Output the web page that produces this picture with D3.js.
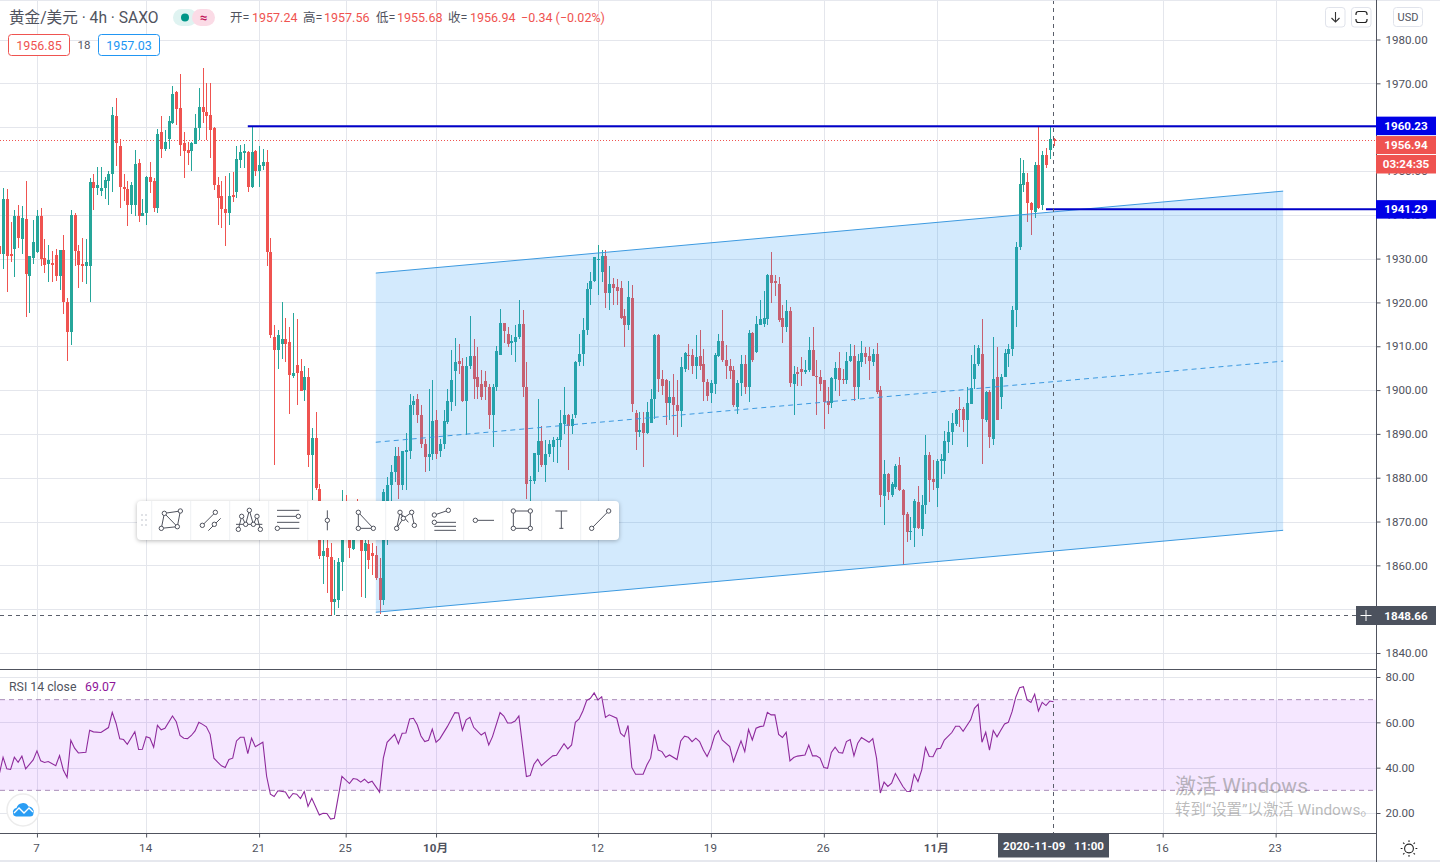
<!DOCTYPE html>
<html>
<head>
<meta charset="utf-8">
<script src="https://cdnjs.cloudflare.com/ajax/libs/d3/7.8.5/d3.min.js"></script>
<style>
html,body{margin:0;padding:0;background:#fff;overflow:hidden}
svg{display:block}
text{font-family:Roboto,"Noto Sans CJK SC",sans-serif}
</style>
</head>
<body>
<svg id="chart" width="1440" height="862"></svg>
<script>
// open, high, low, close per 4h bar
var candles = [
[1932.9,1934.8,1926.8,1931.0],[1931.0,1946.1,1927.6,1943.6],[1943.6,1945.9,1922.3,1930.6],[1931.1,1938.3,1929.2,1930.6],
[1932.1,1941.2,1925.9,1939.8],[1939.8,1942.3,1932.5,1934.6],[1934.4,1942.0,1931.0,1939.3],[1939.1,1947.7,1916.6,1926.4],
[1926.0,1930.6,1917.6,1930.5],[1930.2,1938.7,1928.7,1933.9],[1931.4,1941.0,1931.2,1939.8],[1939.8,1941.6,1928.2,1930.0],
[1930.2,1934.4,1926.8,1928.5],[1928.7,1933.0,1924.7,1929.6],[1929.1,1931.7,1924.7,1928.5],[1930.8,1932.3,1924.9,1926.0],
[1926.0,1932.0,1922.9,1931.9],[1931.9,1935.5,1917.3,1920.2],[1920.0,1921.1,1906.7,1913.2],[1913.2,1941.0,1910.2,1940.0],
[1940.0,1940.4,1928.2,1931.7],[1931.7,1933.0,1923.2,1928.5],[1928.7,1934.8,1924.7,1928.3],[1928.2,1934.5,1924.2,1929.3],
[1928.3,1948.4,1920.2,1947.5],[1947.5,1949.2,1941.0,1946.0],[1946.0,1950.9,1944.6,1946.7],[1945.4,1950.9,1944.4,1946.0],
[1946.0,1948.6,1943.7,1947.9],[1947.7,1949.9,1942.3,1949.3],[1949.2,1964.7,1945.2,1962.8],[1962.6,1966.7,1951.1,1956.4],
[1955.8,1957.3,1941.6,1946.3],[1946.4,1949.4,1943.1,1945.8],[1945.9,1947.7,1937.4,1942.2],[1942.3,1947.4,1940.1,1946.9],
[1942.3,1954.8,1939.8,1951.7],[1951.8,1952.7,1938.3,1939.8],[1939.8,1943.5,1939.7,1940.3],[1940.3,1948.8,1937.6,1948.6],
[1948.6,1952.0,1945.0,1947.4],[1947.7,1948.4,1940.6,1941.6],[1941.6,1959.5,1940.3,1958.5],[1959.0,1962.6,1953.0,1955.1],
[1955.1,1959.4,1954.5,1956.6],[1957.3,1962.6,1955.0,1961.4],[1960.9,1969.4,1960.8,1967.6],[1968.0,1968.2,1960.5,1964.2],
[1964.3,1972.1,1953.5,1956.0],[1956.4,1958.9,1948.4,1954.5],[1954.7,1956.7,1951.4,1954.2],[1954.5,1956.7,1949.9,1956.4],
[1956.2,1963.0,1956.2,1959.8],[1959.8,1968.9,1957.0,1964.7],[1964.6,1973.5,1960.9,1963.4],[1963.4,1970.1,1957.0,1962.5],
[1962.8,1970.1,1952.9,1959.3],[1959.8,1960.0,1945.6,1946.8],[1946.8,1948.7,1937.7,1943.9],[1944.4,1947.6,1936.9,1941.3],
[1941.3,1948.9,1932.9,1940.3],[1940.3,1949.5,1937.7,1944.3],[1944.5,1949.8,1943.0,1944.1],[1945.3,1955.7,1943.8,1952.7],
[1952.4,1955.9,1950.6,1954.4],[1954.2,1956.2,1950.6,1954.5],[1954.4,1954.6,1945.1,1946.4],[1946.4,1960.2,1946.0,1954.4],
[1954.6,1954.8,1948.9,1950.1],[1950.1,1955.7,1946.4,1951.4],[1951.2,1954.9,1950.2,1952.1],[1952.1,1954.8,1928.2,1931.6],
[1931.6,1934.6,1911.9,1912.6],[1912.1,1914.9,1883.0,1909.2],[1909.2,1913.8,1904.8,1912.6],[1910.6,1920.0,1907.1,1911.6],
[1911.6,1916.4,1906.5,1910.6],[1910.9,1914.5,1894.6,1903.5],[1903.3,1917.6,1902.7,1903.9],[1905.8,1916.2,1896.7,1904.0],
[1904.3,1907.1,1899.9,1899.9],[1900.1,1905.4,1897.6,1903.0],[1903.0,1905.0,1882.4,1885.1],[1885.1,1891.3,1875.0,1889.1],
[1889.1,1894.9,1877.3,1877.7],[1877.5,1878.5,1861.5,1862.2],[1862.2,1870.0,1855.8,1863.2],[1864.0,1870.0,1853.7,1862.0],
[1862.0,1865.0,1848.7,1851.6],[1851.6,1861.3,1848.66,1852.4],[1852.2,1861.7,1850.3,1860.8],[1860.7,1877.3,1854.1,1871.0],
[1874.0,1876.0,1866.0,1868.0],[1868.0,1873.0,1861.7,1864.0],[1863.8,1872.0,1863.4,1868.0],[1868.5,1875.2,1865.8,1866.0],
[1866.0,1870.0,1852.8,1863.2],[1863.2,1866.0,1852.6,1865.0],[1864.8,1866.0,1859.2,1861.3],[1862.8,1865.0,1857.9,1862.1],
[1862.4,1864.5,1856.6,1857.2],[1857.2,1861.7,1848.9,1852.2],[1852.2,1877.5,1851.0,1876.7],[1874.8,1880.2,1864.6,1878.3],
[1878.3,1883.0,1874.7,1881.3],[1881.3,1887.1,1879.0,1884.9],[1884.9,1887.0,1875.2,1878.3],[1878.3,1886.1,1877.1,1886.1],
[1885.9,1890.2,1877.3,1886.4],[1886.2,1899.0,1884.3,1896.7],[1896.5,1898.6,1894.2,1897.4],[1897.9,1899.2,1892.5,1894.2],
[1894.4,1896.7,1886.8,1887.6],[1887.6,1888.9,1881.3,1884.7],[1884.7,1900.2,1881.5,1885.5],[1885.5,1902.2,1884.1,1892.9],
[1893.1,1895.4,1884.3,1885.3],[1886.2,1888.9,1884.7,1887.8],[1887.6,1895.4,1886.6,1892.9],[1892.7,1900.2,1892.2,1897.6],
[1897.3,1909.2,1895.2,1902.4],[1904.3,1911.9,1896.3,1906.4],[1906.6,1910.4,1903.7,1905.9],[1905.6,1907.4,1897.3,1897.6],
[1897.6,1907.5,1889.7,1905.4],[1905.4,1917.0,1904.9,1907.7],[1907.7,1911.7,1898.0,1902.6],[1903.0,1909.9,1898.0,1900.8],
[1901.4,1904.5,1897.8,1898.4],[1902.0,1904.3,1897.8,1900.7],[1900.8,1901.3,1891.2,1894.4],[1894.2,1901.4,1887.0,1900.7],
[1900.7,1910.0,1899.9,1909.0],[1908.1,1918.6,1908.1,1915.4],[1915.4,1915.4,1910.7,1913.5],[1912.7,1914.5,1909.8,1910.6],
[1910.7,1912.5,1908.1,1911.1],[1911.0,1914.8,1906.4,1912.2],[1912.1,1920.6,1911.7,1915.0],[1915.1,1918.2,1898.4,1900.7],
[1900.8,1906.4,1875.2,1878.5],[1879.2,1880.5,1874.8,1879.5],[1879.2,1885.6,1878.6,1885.6],[1885.1,1898.0,1881.3,1888.3],
[1888.3,1891.7,1882.4,1883.0],[1883.0,1888.7,1879.0,1885.5],[1885.3,1888.5,1884.7,1887.6],[1887.1,1889.3,1883.6,1888.5],
[1888.5,1889.3,1883.3,1888.8],[1888.5,1895.4,1887.0,1892.5],[1892.3,1900.7,1890.0,1894.4],[1894.4,1894.6,1881.7,1891.7],
[1891.9,1894.6,1890.0,1893.5],[1894.2,1906.6,1893.7,1906.5],[1906.4,1912.9,1905.4,1908.3],[1908.3,1916.5,1905.4,1913.8],
[1913.8,1924.4,1912.5,1923.1],[1923.1,1926.9,1919.3,1924.9],[1924.9,1930.3,1924.6,1930.3],[1929.6,1933.2,1921.6,1930.0],
[1926.9,1931.9,1924.6,1930.5],[1930.7,1932.0,1918.8,1922.1],[1922.1,1928.4,1918.3,1924.1],[1924.1,1925.6,1919.3,1923.3],
[1923.5,1925.4,1919.3,1922.7],[1923.3,1925.0,1916.3,1916.5],[1917.0,1918.5,1909.8,1914.8],[1914.8,1924.9,1913.6,1921.2],
[1921.1,1924.0,1895.0,1896.9],[1894.8,1895.4,1886.4,1890.4],[1890.4,1895.0,1889.3,1891.0],[1892.5,1895.0,1882.4,1890.2],
[1890.2,1897.3,1889.9,1895.0],[1892.5,1900.3,1892.5,1898.0],[1898.0,1912.9,1893.5,1912.5],[1912.5,1912.7,1899.5,1902.6],
[1902.6,1904.5,1898.8,1901.0],[1902.4,1902.6,1892.1,1897.0],[1897.0,1902.0,1893.1,1898.4],[1898.4,1903.6,1889.7,1896.5],
[1896.7,1902.2,1889.4,1895.2],[1895.2,1907.5,1891.6,1905.2],[1904.9,1908.7,1904.1,1908.4],[1908.1,1910.6,1904.5,1907.7],
[1908.1,1909.4,1903.7,1905.6],[1905.4,1912.5,1902.6,1907.5],[1907.7,1913.8,1904.5,1905.6],[1905.9,1909.4,1897.6,1901.8],
[1901.8,1902.6,1897.6,1898.6],[1899.3,1902.2,1897.0,1901.6],[1901.4,1908.4,1899.2,1908.1],[1907.7,1912.7,1907.5,1911.2],
[1911.3,1918.3,1906.4,1906.9],[1906.9,1910.2,1902.6,1905.4],[1905.6,1907.1,1902.6,1904.3],[1904.5,1905.6,1896.1,1896.5],
[1896.1,1902.2,1894.6,1901.6],[1901.6,1907.9,1898.6,1906.0],[1906.0,1908.1,1899.2,1900.7],[1900.8,1913.6,1897.3,1913.0],
[1913.0,1913.2,1906.4,1906.8],[1908.7,1917.0,1908.4,1915.1],[1914.8,1920.5,1914.8,1916.3],[1915.1,1922.7,1914.5,1916.5],
[1916.3,1926.5,1914.8,1926.3],[1926.2,1931.5,1919.8,1924.4],[1924.9,1926.2,1921.4,1924.4],[1924.3,1925.8,1915.5,1916.0],
[1916.5,1919.3,1910.7,1914.4],[1914.4,1920.5,1913.2,1918.0],[1918.0,1918.9,1900.7,1901.6],[1901.4,1905.6,1894.4,1903.6],
[1904.1,1905.2,1901.0,1903.6],[1904.9,1907.5,1901.0,1904.1],[1904.1,1906.8,1903.7,1904.6],[1904.6,1912.2,1904.1,1909.2],
[1909.2,1914.4,1903.1,1903.1],[1903.3,1906.9,1894.2,1903.0],[1903.0,1904.6,1899.9,1901.4],[1902.2,1902.4,1891.2,1897.3],
[1897.6,1900.7,1894.6,1896.7],[1897.0,1903.0,1896.0,1902.7],[1902.6,1906.4,1899.9,1905.1],[1905.1,1908.7,1898.6,1902.4],
[1902.6,1904.9,1901.3,1902.2],[1902.2,1908.7,1901.3,1906.6],[1906.6,1910.4,1906.4,1907.7],[1907.7,1910.2,1897.6,1900.8],
[1900.8,1908.3,1898.0,1906.6],[1906.4,1911.3,1905.2,1908.5],[1908.5,1909.8,1906.0,1907.5],[1907.7,1909.8,1902.2,1906.6],
[1906.4,1909.3,1905.4,1908.3],[1908.3,1910.7,1899.2,1899.5],[1900.1,1901.0,1873.3,1876.0],[1875.8,1884.1,1869.1,1880.9],
[1880.9,1881.0,1875.0,1876.7],[1876.0,1879.0,1875.6,1878.6],[1877.9,1883.2,1877.5,1882.6],[1882.8,1884.7,1877.0,1877.1],
[1877.1,1877.5,1860.0,1871.4],[1871.8,1872.2,1865.3,1867.6],[1867.6,1871.0,1865.7,1867.8],[1868.5,1875.2,1864.3,1874.7],
[1874.4,1878.0,1868.4,1868.6],[1868.2,1876.0,1866.6,1873.7],[1873.7,1889.7,1871.8,1885.1],[1885.1,1885.9,1874.4,1879.4],
[1879.6,1884.0,1877.1,1879.0],[1877.7,1884.3,1873.3,1883.8],[1883.8,1885.3,1879.8,1884.3],[1883.8,1890.6,1880.8,1888.4],
[1888.2,1892.9,1885.6,1890.4],[1890.4,1894.8,1887.4,1892.5],[1892.2,1895.7,1891.9,1895.5],[1895.7,1898.4,1891.6,1895.4],
[1895.7,1896.1,1890.4,1893.2],[1893.2,1900.7,1887.0,1897.0],[1896.9,1908.1,1896.9,1900.5],[1902.6,1910.2,1900.3,1906.0],
[1906.0,1910.2,1905.6,1909.7],[1908.3,1916.3,1883.2,1893.3],[1893.1,1899.9,1892.7,1899.5],[1899.6,1900.0,1886.8,1889.3],
[1888.9,1912.1,1887.4,1902.6],[1903.0,1909.8,1893.1,1893.1],[1898.4,1903.7,1895.7,1903.0],[1903.0,1909.4,1902.9,1908.4],
[1908.3,1910.6,1905.2,1909.4],[1909.3,1919.1,1907.7,1918.2],[1918.2,1933.8,1914.4,1932.6],[1932.7,1952.9,1932.0,1947.0],
[1946.8,1952.5,1945.3,1949.6],[1947.4,1949.5,1938.4,1942.6],[1942.6,1943.0,1935.4,1941.0],[1940.7,1952.1,1939.2,1951.4],
[1951.4,1960.23,1941.3,1941.5],[1942.2,1954.6,1941.1,1953.6],[1953.6,1955.2,1950.6,1951.4],[1954.8,1960.2,1952.7,1957.2],
[1957.24,1957.56,1955.68,1956.94]
];

// RSI line: bars where the line visibly turns, and its value there
var rsiBars = [0,1,2,3,4,5,6,7,9,10,11,12,13,15,16,17,18,19,20,21,23,24,25,27,29,30,31,32,33,34,36,37,38,39,40,41,42,43,44,46,47,48,49,50,51,52,53,54,55,56,57,58,59,60,61,62,63,64,65,66,67,68,70,71,72,73,74,76,77,78,79,80,81,82,83,85,86,87,88,89,91,93,94,95,96,97,98,99,101,102,103,105,106,107,108,109,110,111,112,113,114,115,116,117,119,121,122,123,124,125,126,128,129,130,131,133,134,135,136,137,138,140,141,142,143,144,146,147,148,150,151,152,153,154,155,156,157,158,159,160,161,162,164,165,166,167,168,169,171,172,173,174,175,176,177,178,180,181,182,183,184,185,186,187,188,189,190,191,192,194,195,197,198,199,200,201,202,203,204,205,206,207,208,209,210,211,212,214,215,216,217,218,219,220,221,222,223,224,225,226,227,228,229,231,232,233,234,235,236,237,238,240,241,242,243,244,245,246,247,248,249,250,251,253,254,255,256,258,259,260,261,262,263,264,265,266,267,268,269,270,271,272,273,274,275,276,277,278,279,280];
var rsiValues = [37.1,44.6,39.5,39.2,44.6,42.4,45.1,39.5,43.4,47.4,43,42.3,42.7,40.9,45.3,39,35.7,52.1,48.6,46.5,46.8,56.5,55.8,55.5,57.7,64.4,59.6,52.7,52.4,50.3,55.9,48,48.1,53.7,53.1,49,58.7,56.7,57.4,62.8,60.3,54.2,53,52.8,54.2,56.2,60,59.1,58,54.7,44.2,42.4,40.8,40.1,43.6,44.2,51.8,53.4,53.4,46.2,53,49.2,51.2,36.2,28.3,27.3,29.8,29.3,26.5,28.6,28.3,26.4,29.5,22.9,26.5,19.1,19.9,19.8,17.3,17.7,36.2,33,35.2,34.9,33.6,34.9,33.3,34,29.2,44.2,51.2,54.7,50.6,55.2,55.3,61.5,61.8,58.9,54,51.5,52.1,57,51.2,52.7,58.1,64.3,64.1,56.5,61.1,62.2,57.8,54.4,55.6,50,53.7,64.3,62.8,59.7,59.7,60.6,62.8,36.1,36.5,41.5,43.7,40.9,43.9,45.2,45.5,50.6,48.3,50,60,61.5,65,69.6,70.6,73,69.9,71.3,62.2,63.3,61.8,55.2,53.7,58.6,40.1,37.1,37.1,41.2,44.2,54.7,47.8,47.1,44.6,45.6,43.6,51.8,53.9,53.4,51.5,53,51.5,47.8,44.9,48.6,54.2,56.4,52.2,49.3,42.7,51.8,47.1,56.9,52.2,57.4,58.1,58.4,64.4,63.3,63.3,54.7,53.3,55.6,43,44.5,45.1,45.6,50,45.2,45.2,44.2,40.1,39.7,46.7,49,46.7,46.4,51.5,52.4,45.2,50.8,53.3,51.2,52.8,44.2,28.8,33.6,31.7,33.2,37.4,31.7,29.6,29.5,37.1,33.9,39,48.9,44.9,44.8,48.3,48.6,52.2,55.5,58.3,58.3,56,61.1,66.2,68,51.2,55.6,47.7,56.4,53.6,56.5,59.3,60,64.7,71.2,75.3,75.7,69.9,68.8,72.4,65,68.8,67.4,69.4,69.1];

var priceTicks = [1840,1850,1860,1870,1880,1890,1900,1910,1920,1930,1940,1950,1960,1970,1980];
var rsiTicks = [20,40,60,80];
var timeTickBars = [10,39,69,92,116,159,189,219,249,309,339];
var timeTickLabels = ["7","14","21","25","10月","12","19","26","11月","16","23"];
var boldTimeLabels = ["10月","11月"];

var lastPrice = 1956.94;
var hLevels = [1960.23,1941.29];
var hLevelStartBars = [66,278];
var crossPrice = 1848.66;
var crossBar = 280;

// parallel channel: bars at both ends, then price at both ends of each line
var channelBars = [100,341];
var channelUpper = [1926.7,1945.4];
var channelMiddle = [1888.1,1906.6];
var channelLower = [1849.3,1868.0];

var rsiBand = [30,70];

var GREEN = "#26a69a", RED = "#ef5350", GRID = "#e4e6ec", TEXT = "#50535e", DARK = "#4c525e", LEVEL = "#0000c8", TAG = "#0000e6";

var svg = d3.select("#chart");

var x = d3.scaleLinear().domain([0,280]).range([-0.7,1053.5]);
var y = d3.scaleLinear().domain([1840,1980]).range([653,39.5]);
var yRsi = d3.scaleLinear().domain([20,80]).range([813,677]);

var paneRight = 1376.5, mainBottom = 669.5, rsiBottom = 833.5;

// grid
var grid = svg.append("g").attr("shape-rendering","crispEdges").attr("stroke",GRID);
grid.selectAll(".v").data(timeTickBars).enter().append("line")
    .attr("x1",function(d){return Math.round(x(d))+0.5;})
    .attr("x2",function(d){return Math.round(x(d))+0.5;})
    .attr("y1",0).attr("y2",rsiBottom);
grid.selectAll(".h").data(priceTicks).enter().append("line")
    .attr("x1",0).attr("x2",paneRight)
    .attr("y1",function(d){return Math.round(y(d))+0.5;})
    .attr("y2",function(d){return Math.round(y(d))+0.5;});
grid.selectAll(".r").data(rsiTicks).enter().append("line")
    .attr("x1",0).attr("x2",paneRight)
    .attr("y1",function(d){return Math.round(yRsi(d))+0.5;})
    .attr("y2",function(d){return Math.round(yRsi(d))+0.5;});

// last price line under the candles
svg.append("line").attr("x1",0).attr("x2",paneRight)
    .attr("y1",Math.floor(y(lastPrice))+0.5).attr("y2",Math.floor(y(lastPrice))+0.5)
    .attr("stroke",RED).attr("stroke-dasharray","1 2").attr("shape-rendering","crispEdges");

// candles
var candle = svg.append("g").attr("shape-rendering","crispEdges")
    .selectAll("g").data(candles).enter().append("g")
    .attr("fill",function(d){return d[3]>=d[0]?GREEN:RED;});
candle.append("rect")
    .attr("x",function(d,i){return Math.round(x(i));})
    .attr("width",1)
    .attr("y",function(d){return y(d[1]);})
    .attr("height",function(d){return y(d[2])-y(d[1]);});
candle.append("rect")
    .attr("x",function(d,i){return Math.round(x(i))-1;})
    .attr("width",3)
    .attr("y",function(d){return y(Math.max(d[0],d[3]));})
    .attr("height",function(d){return Math.max(1,Math.abs(y(d[0])-y(d[3])));});

// channel, painted over the candles
var area = d3.area().x(function(d){return x(d.b);}).y0(function(d){return y(d.lo);}).y1(function(d){return y(d.up);});
var channelRows = channelBars.map(function(b,i){return {b:b,up:channelUpper[i],mid:channelMiddle[i],lo:channelLower[i]};});
svg.append("path").datum(channelRows).attr("d",area).attr("fill","rgba(33,150,243,0.2)");
[["up",null],["mid","5 4"],["lo",null]].forEach(function(k){
    svg.append("path").datum(channelRows)
        .attr("d",d3.line().x(function(d){return x(d.b);}).y(function(d){return y(d[k[0]]);}))
        .attr("fill","none").attr("stroke","#3d9ae0").attr("stroke-width",1)
        .attr("stroke-dasharray",k[1]);
});

// horizontal levels
hLevels.forEach(function(p,i){
    svg.append("line").attr("x1",x(hLevelStartBars[i])).attr("x2",paneRight)
        .attr("y1",y(p)).attr("y2",y(p))
        .attr("stroke",LEVEL).attr("stroke-width",2);
});

// rsi pane
svg.append("rect").attr("x",0).attr("width",paneRight)
    .attr("y",yRsi(rsiBand[1])).attr("height",yRsi(rsiBand[0])-yRsi(rsiBand[1]))
    .attr("fill","rgba(153,21,255,0.1)");
rsiBand.forEach(function(v){
    svg.append("line").attr("x1",0).attr("x2",paneRight)
        .attr("y1",yRsi(v)).attr("y2",yRsi(v))
        .attr("stroke","#a98db8").attr("stroke-dasharray","5 4");
});
var rsiLine = d3.line().x(function(d){return x(d);}).y(function(d,i){return yRsi(rsiValues[i]);});
svg.append("path").datum(rsiBars).attr("d",rsiLine)
    .attr("fill","none").attr("stroke","#8e2a9c").attr("stroke-width",1.1);

// crosshair
svg.append("line").attr("x1",0).attr("x2",paneRight)
    .attr("y1",Math.floor(y(crossPrice))+0.5).attr("y2",Math.floor(y(crossPrice))+0.5)
    .attr("stroke","#5a5f6a").attr("stroke-dasharray","4 4");
svg.append("line").attr("x1",Math.floor(x(crossBar))+0.5).attr("x2",Math.floor(x(crossBar))+0.5)
    .attr("y1",0).attr("y2",rsiBottom)
    .attr("stroke","#5a5f6a").attr("stroke-dasharray","4 4");

// pane borders
svg.append("rect").attr("x",0).attr("y",0).attr("width",1440).attr("height",1).attr("fill","#e6e8ee");
svg.append("rect").attr("x",0).attr("y",860).attr("width",1440).attr("height",2).attr("fill","#e6e8ee");
[[0,mainBottom,paneRight,mainBottom],[0,rsiBottom,paneRight,rsiBottom],[paneRight,0,paneRight,862]].forEach(function(l){
    svg.append("line").attr("x1",l[0]).attr("y1",l[1]).attr("x2",l[2]).attr("y2",l[3])
        .attr("stroke","#50535e").attr("stroke-width",1).attr("shape-rendering","crispEdges");
});

// axes
function styleAxis(g){
    g.select(".domain").remove();
    g.selectAll("line").attr("stroke","#50535e");
    g.selectAll("text").attr("fill",TEXT).style("font-size","11.6px");
}
// the crosshair tag covers the 1850 label, as on the original chart
svg.append("g").attr("transform","translate("+paneRight+",0)")
    .call(d3.axisRight(y).tickValues(priceTicks).tickSize(4).tickPadding(5)
        .tickFormat(function(d){return d===1850?"":d3.format(".2f")(d);}))
    .call(styleAxis);
svg.append("g").attr("transform","translate("+paneRight+",0)")
    .call(d3.axisRight(yRsi).tickValues(rsiTicks).tickSize(4).tickPadding(5).tickFormat(d3.format(".2f")))
    .call(styleAxis);
svg.append("g").attr("transform","translate(0,"+rsiBottom+")")
    .call(d3.axisBottom(x).tickValues(timeTickBars).tickSize(4).tickPadding(6)
        .tickFormat(function(d,i){return timeTickLabels[i];}))
    .call(styleAxis)
    .call(function(g){
        g.selectAll("text").attr("dx",-1).style("font-weight",function(d,i){
            return boldTimeLabels.indexOf(timeTickLabels[i])>=0?"700":"400";
        });
    });

function tag(px,py,w,h,fill,label){
    svg.append("rect").attr("x",px).attr("y",py).attr("width",w).attr("height",h).attr("fill",fill);
    svg.append("text").attr("x",px+w/2).attr("y",py+h/2+4).attr("text-anchor","middle")
        .attr("fill","#fff").style("font-size","11.6px").style("font-weight","700").text(label);
}
var fmt = d3.format(".2f");
tag(1376,y(hLevels[0])-9.5,60,18.5,TAG,fmt(hLevels[0]));
tag(1376,y(lastPrice)-4.5,60,18,RED,fmt(lastPrice));
tag(1376,155,60,18.5,RED,"03:24:35");
tag(1376,y(hLevels[1])-9,60,18.5,TAG,fmt(hLevels[1]));
tag(1376,606,60,19,DARK,fmt(crossPrice));
svg.append("rect").attr("x",1356).attr("y",606).attr("width",20).attr("height",19).attr("fill",DARK);
svg.append("path").attr("d","M1366 610v11M1360.5 615.5h11").attr("stroke","#fff").attr("stroke-width",1);

tag(998,833.5,111,24,DARK,"2020-11-09   11:00");
svg.selectAll("text").filter(function(){return this.textContent.indexOf("2020-11-09")===0;})
    .attr("xml:space","preserve").style("white-space","pre");

// header
function label(px,py,str,fill,size,anchor){
    return svg.append("text").attr("x",px).attr("y",py).attr("fill",fill)
        .attr("text-anchor",anchor||"start").style("font-size",(size||12.5)+"px").text(str);
}
label(9,23,"黄金/美元 · 4h · SAXO",TEXT,15.6);
svg.append("rect").attr("x",173).attr("y",9).attr("width",24).attr("height",17).attr("rx",8.5).attr("fill","#dff3f1");
svg.append("rect").attr("x",192).attr("y",9).attr("width",23).attr("height",17).attr("rx",8.5).attr("fill","#fbdbe6");
svg.append("circle").attr("cx",185).attr("cy",17.5).attr("r",4).attr("fill","#009688");
label(203.5,22,"≈","#c2185b",13,"middle").style("font-weight","700");

[[230,"开="],[303,"高="],[376,"低="],[448,"收="]].forEach(function(d){label(d[0],22,d[1],TEXT);});
[[252,"1957.24"],[324,"1957.56"],[397,"1955.68"],[470,"1956.94"],[521,"−0.34 (−0.02%)"]].forEach(function(d){label(d[0],22,d[1],RED);});

svg.append("rect").attr("x",8.5).attr("y",34.5).attr("width",61).attr("height",21).attr("rx",3).attr("fill","#fff").attr("stroke",RED);
label(39,50,"1956.85",RED,12.5,"middle");
label(84,49,"18",TEXT,11.5,"middle");
svg.append("rect").attr("x",98.5).attr("y",34.5).attr("width",61).attr("height",21).attr("rx",3).attr("fill","#fff").attr("stroke","#2196f3");
label(129,50,"1957.03","#2196f3",12.5,"middle");

// top right buttons
[[1325.5,19.5],[1351.5,19.5]].forEach(function(b){
    svg.append("rect").attr("x",b[0]).attr("y",7.5).attr("width",b[1]).attr("height",19.5).attr("rx",3)
        .attr("fill","#fff").attr("stroke","#e0e3eb");
});
svg.append("path").attr("d","M1335.5 12v10M1331.5 18l4 4 4-4").attr("fill","none").attr("stroke","#333").attr("stroke-width",1.1);
svg.append("path").attr("d","M1356 15v-1a2.5 2.5 0 0 1 2.5-2.5h6a2.5 2.5 0 0 1 2.5 2.5v1M1356 19v1a2.5 2.5 0 0 0 2.5 2.5h6a2.5 2.5 0 0 0 2.5-2.5v-1")
    .attr("fill","none").attr("stroke","#222").attr("stroke-width",1.2);
svg.append("rect").attr("x",1393.5).attr("y",7.5).attr("width",29).attr("height",19).attr("rx",3).attr("fill","#fff").attr("stroke","#e0e3eb");
label(1408,21,"USD",TEXT,11,"middle");

// rsi legend and logo
label(9,690.5,"RSI 14 close",TEXT,12.3);
label(85,690.5,"69.07","#8e1599",12.3);
svg.append("circle").attr("cx",23).attr("cy",810).attr("r",16).attr("fill","#fff").attr("stroke","#ececec").attr("stroke-width",1.5);
svg.append("path").attr("d","M13 813a4 4 0 0 1 3.5-5a6.5 6.5 0 0 1 12 -1.5a5 5 0 0 1 5 6.5a3.5 3.5 0 0 1-3.5 3.5h-14a3.5 3.5 0 0 1-3-3.5z").attr("fill","#2a9df4");
svg.append("path").attr("d","M14 813l5-5 5 5 5-5 4 4").attr("fill","none").attr("stroke","#fff").attr("stroke-width",1.4);

// sun icon
svg.append("circle").attr("cx",1409).attr("cy",848.5).attr("r",4.4).attr("fill","none").attr("stroke","#222").attr("stroke-width",1.1);
svg.append("path").attr("d","M1409 842v-1.8M1409 855v1.8M1402.5 848.5h-1.8M1415.5 848.5h1.8M1404.4 843.9l-1.3-1.3M1413.6 843.9l1.3-1.3M1404.4 853.1l-1.3 1.3M1413.6 853.1l1.3 1.3")
    .attr("stroke","#222").attr("stroke-width",1.1);

// drawing toolbar
var bar = svg.append("g");
bar.append("rect").attr("x",137).attr("y",501).attr("width",482).attr("height",39).attr("rx",4)
    .attr("fill","#fff").style("filter","drop-shadow(0 1px 2px rgba(0,0,0,0.28))");
d3.range(12).forEach(function(i){
    var dx = 151.7+i*39;
    bar.append("line").attr("x1",dx).attr("x2",dx).attr("y1",501).attr("y2",540).attr("stroke","#eef0f3");
});
[[142,515],[146,515],[142,520],[146,520],[142,525],[146,525]].forEach(function(d){
    bar.append("circle").attr("cx",d[0]).attr("cy",d[1]).attr("r",1).attr("fill","#d6d8de");
});
// icon outlines taken from a 3x crop, toolbar origin 130,495
var iconLines = [
[103,55,151,48],[151,48,142,95],[142,95,94,100],[94,100,103,55],[103,55,142,95],
[217,91,256,52],[235,107,272,70],
[358,46,347,88],[358,46,370,88],[335,64,325,103],[335,64,347,88],[381,64,370,88],[381,64,391,103],[318,88,397,88],
[441,46,508,46],[441,64,500,64],[441,82,508,82],[448,100,508,100],
[592,46,592,106],
[685,52,685,100],[685,100,730,100],[685,52,730,100],
[810,52,820,70],[845,52,820,70],[820,70,800,100],[845,52,853,91],[810,52,835,82],[800,100,810,52],
[955,46,913,60],[913,82,978,82],[913,94,978,94],[913,106,978,106],
[1036,76,1092,76],
[1150,48,1201,48],[1201,48,1201,100],[1201,100,1150,100],[1150,100,1150,48],
[1276,48,1312,48],[1294,48,1294,100],[1288,100,1300,100],
[1385,100,1436,48]
];
var iconDots = [[103,55],[151,48],[94,100],[142,95],[217,91],[256,52],[253,88],
[358,46],[335,64],[381,64],[347,88],[370,88],[325,103],[391,103],[505,64],[442,100],
[592,76],[685,52],[685,100],[730,100],[810,52],[845,52],[820,70],[800,100],[853,91],
[955,46],[913,60],[913,82],[1036,76],[1150,48],[1201,48],[1150,100],[1201,100],[1385,100],[1436,48]];
bar.selectAll(".il").data(iconLines).enter().append("line")
    .attr("x1",function(d){return 130+d[0]/3;}).attr("y1",function(d){return 495+d[1]/3;})
    .attr("x2",function(d){return 130+d[2]/3;}).attr("y2",function(d){return 495+d[3]/3;})
    .attr("stroke","#50535e").attr("stroke-width",1);
bar.selectAll(".id").data(iconDots).enter().append("circle")
    .attr("cx",function(d){return 130+d[0]/3;}).attr("cy",function(d){return 495+d[1]/3;})
    .attr("r",2.2).attr("fill","#fff").attr("stroke","#50535e").attr("stroke-width",1);

// windows activation watermark
label(1175,793,"激活 Windows","rgba(130,130,130,0.55)",21);
label(1175,815,"转到“设置”以激活 Windows。","rgba(130,130,130,0.55)",15.4);
</script>
</body>
</html>
